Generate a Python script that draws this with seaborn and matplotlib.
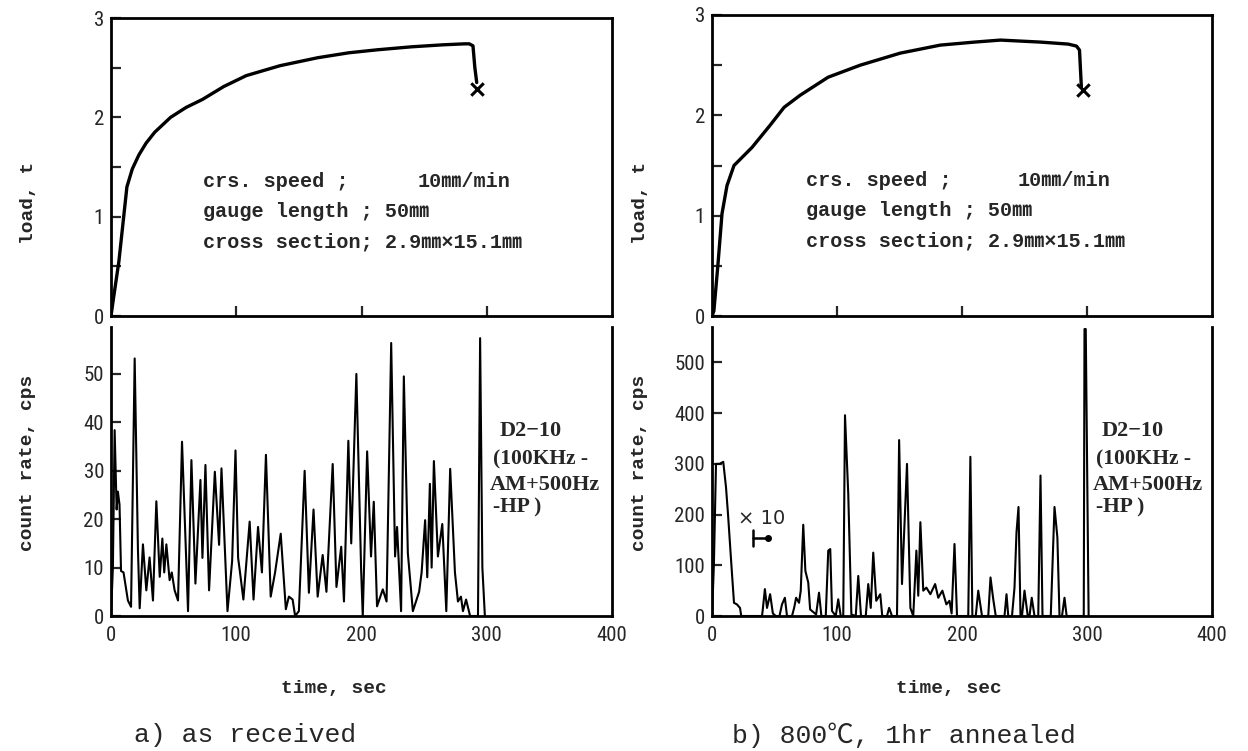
import numpy as np
import pandas as pd
import matplotlib
matplotlib.use("Agg")
import matplotlib.pyplot as plt
from matplotlib import font_manager
import seaborn as sns

# ---------------- data ----------------
load_a_t = [0, 2, 6.3, 12.7, 17, 22.2, 28, 34.9, 47.6, 60, 73, 90, 108, 135, 165, 190,
            212.7, 240, 265, 282.5, 286, 289, 290.5, 292]
load_a_v = [0, 0.18, 0.55, 1.3, 1.48, 1.62, 1.74, 1.85, 2.0, 2.1, 2.18, 2.31, 2.42, 2.52,
            2.6, 2.65, 2.68, 2.71, 2.73, 2.74, 2.74, 2.72, 2.5, 2.35]
break_a = (292, 2.29)

load_b_t = [0, 1.5, 4.8, 8, 12, 17.6, 32, 46.4, 57.7, 70.5, 92.9, 118.6, 150.6, 182.7,
            210, 230.8, 262.8, 285, 291.6, 294, 295.5]
load_b_v = [0, 0.05, 0.52, 1.02, 1.3, 1.5, 1.68, 1.9, 2.08, 2.2, 2.38, 2.5, 2.62, 2.7,
            2.73, 2.75, 2.73, 2.71, 2.69, 2.65, 2.28]
break_b = (296.5, 2.25)

count_a = [(0, 0), (1.5, 10), (2.9, 38.4), (4.5, 22), (5.5, 25.7), (6.8, 23), (8, 9.3), (10, 9),
           (13.5, 3.2), (16, 1.9), (18.9, 53.2), (21.5, 13.8), (22.9, 1.6), (25.5, 14.8),
           (28.2, 5.3), (30.8, 12.1), (33.5, 3.2), (36.2, 23.7), (38.9, 8.1), (41, 16),
           (42.5, 9), (44.2, 14.8), (46.8, 7.4), (48.5, 9), (50.8, 5.3), (53.5, 3.2),
           (56.7, 36), (61.5, 1), (64.2, 32.2), (67.4, 6.7), (71.4, 28.1), (73, 12),
           (75.4, 31.2), (78.3, 5.3), (82.9, 29.8), (86.3, 14.7), (88.2, 30.5), (93, 1),
           (96.7, 11.3), (99.4, 34.2), (101.5, 12), (103, 9), (105.7, 3.4),
           (110.7, 19.5), (113.8, 3.4), (117.4, 18.4), (120.5, 9), (123.7, 33.3), (127.5, 4),
           (131, 9), (135.5, 17), (139.6, 1.4), (142, 4), (145, 3.4), (147, 0), (150, 1),
           (154.6, 30), (158, 4.8), (161.7, 22), (165, 4), (169, 12.6), (172, 5), (177, 31.4),
           (180, 6), (183.8, 14.3), (186, 3), (189.5, 36.2), (191.8, 15), (195.9, 50),
           (199.7, 9.6), (201, 0), (204.5, 34), (207.6, 12.3), (209.8, 23.6), (212.4, 2),
           (217, 5.5), (220, 3), (223.7, 56.4), (226.8, 12.3), (228.4, 18.4), (231.6, 1),
           (233.8, 49.5), (237, 13), (241, 1), (246, 5), (248, 9), (250.8, 19.8), (252.5, 8),
           (254.6, 27.3), (256, 10), (257.8, 32), (261, 12.3), (264.5, 19), (267.7, 1),
           (270.8, 30.4), (274.6, 9), (277, 3), (279.4, 4), (281, 1), (283.5, 3.4),
           (286.7, 0), (293, 0), (294.7, 57.4), (296.5, 10), (298.5, 0)]

count_b = [(0, 0), (1.5, 100), (3.2, 300), (6, 300), (9, 304), (11.2, 254), (12.8, 201), (16, 83),
           (17.6, 26), (19.9, 23), (22.4, 16), (23.4, 0), (40, 0), (40.5, 10), (42.3, 53),
           (44, 16), (46.5, 43), (48.7, 5), (51, 0), (54, 0), (56, 23), (58.3, 36), (60, 0),
           (64, 0), (65.7, 16), (67.3, 36), (69.6, 26), (71, 50), (73, 180), (74.7, 89),
           (77, 66), (78.5, 13), (83.3, 3), (85.6, 46), (87.5, 0), (91, 0), (93, 129),
           (94.6, 132), (96, 10), (99, 0), (101, 33), (103, 0), (105, 0), (106.4, 396),
           (109, 241), (111.5, 3), (115, 0), (117, 79), (119.2, 0), (123, 0), (125, 63),
           (127, 16), (129, 125), (131.4, 30), (134.6, 43), (136.2, 0), (140, 0), (141.7, 16),
           (144, 0), (148, 0), (149.7, 347), (152, 63), (156, 300), (158.7, 16), (161, 0),
           (163.5, 129), (165, 40), (166.7, 185), (169, 50), (171.5, 56), (174.7, 43),
           (178.5, 63), (181, 36), (184.3, 50), (187.5, 23), (190, 30), (191.7, 5),
           (194, 142), (196, 0), (205, 0), (206.7, 314), (208.3, 0), (211, 0), (213, 50),
           (216, 0), (221, 0), (222.8, 76), (225, 33), (227, 0), (234, 0), (235.6, 43),
           (237, 0), (240, 0), (242, 56), (243.6, 165), (245.2, 215), (246.8, 0), (248, 0),
           (250, 50), (252.6, 0), (254, 0), (255.8, 36), (258, 0), (261, 0), (262.8, 277),
           (264.4, 0), (271, 0), (274, 215), (276.3, 155), (278, 0), (280, 0), (282, 36),
           (283.7, 0), (297.4, 0), (298, 566), (299, 566), (301.3, 0)]

load_ticks = [0, 1, 2, 3]
count_a_ticks = [0, 10, 20, 30, 40, 50]
count_b_ticks = [0, 100, 200, 300, 400, 500]
time_ticks = [0, 100, 200, 300, 400]

# ---------------- style ----------------
sns.set_theme(style="white")
plt.rcParams['font.family'] = ['DejaVu Sans']

installed = {f.name for f in font_manager.fontManager.ttflist}
narrow = [f for f in ['Liberation Sans Narrow', 'Roboto Condensed', 'DejaVu Sans Condensed',
                      'Open Sans Condensed'] if f in installed]
TICK_FAM = (narrow[:1] if narrow else []) + ['DejaVu Sans']
TICK_SIZE = 15 if narrow else 13

W, H = 1248, 751
fig = plt.figure(figsize=(W / 100, H / 100), dpi=100)
fig.patch.set_facecolor('white')


def px_axes(x0, y0, x1, y1):
    return fig.add_axes([x0 / W, 1 - y1 / H, (x1 - x0) / W, (y1 - y0) / H])


MONO = ['Liberation Mono', 'Noto Sans CJK JP', 'DejaVu Sans']
SERIF = ['Liberation Serif', 'DejaVu Serif']
tickfont = dict(family=TICK_FAM, size=TICK_SIZE)
LW_SPINE = 2.0

panels = [
    dict(x0=111, x1=612, ytop=18, ymid=316, cy0=327, ybot=616,
         lt=load_a_t, lv=load_a_v, brk=break_a, cnt=count_a,
         cticks=count_a_ticks, cmax=59.7, ylab_x=28, cap="a) as received", cap_x=134,
         tlab_x=334),
    dict(x0=712, x1=1212, ytop=15, ymid=316, cy0=327, ybot=616,
         lt=load_b_t, lv=load_b_v, brk=break_b, cnt=count_b,
         cticks=count_b_ticks, cmax=570, ylab_x=640, cap="b) 800℃, 1hr annealed", cap_x=732,
         tlab_x=949),
]

for i, p in enumerate(panels):
    # ---------- load panel ----------
    ax = px_axes(p['x0'], p['ytop'], p['x1'], p['ymid'])
    df = pd.DataFrame({'t': p['lt'], 'v': p['lv']})
    sns.lineplot(data=df, x='t', y='v', ax=ax, color='black', lw=2.4,
                 sort=False, estimator=None)
    sns.scatterplot(x=[p['brk'][0]], y=[p['brk'][1]], ax=ax, marker='x', s=80,
                    color='black', linewidth=2.2)
    ax.set_xlim(0, 400)
    ax.set_ylim(0, 3)
    ax.set_xticks([100, 200, 300])
    ax.set_xticklabels([])
    ax.set_yticks(load_ticks)
    ax.set_yticks([0.5, 1.5, 2.5], minor=True)
    ax.set_yticklabels([str(t) for t in load_ticks], **tickfont)
    ax.tick_params(axis='both', which='both', direction='in', length=7, width=1.6,
                   left=True, bottom=True, pad=5)
    ax.set_xlabel('')
    ax.set_ylabel('')
    ax.set_facecolor('white')
    for s in ax.spines.values():
        s.set_visible(True)
        s.set_color('black')
        s.set_linewidth(LW_SPINE)

    fx = 0.183 if i == 0 else 0.188
    fs = 14.5
    ax.text(fx, 0.45, "crs. speed ;", transform=ax.transAxes, family=MONO,
            fontsize=fs, fontweight='bold', va='center')
    ax.text(0.612, 0.45, "10㎜/min", transform=ax.transAxes, family=MONO,
            fontsize=fs, fontweight='bold', va='center')
    ax.text(fx, 0.35, "gauge length ; 50㎜", transform=ax.transAxes, family=MONO,
            fontsize=fs, fontweight='bold', va='center')
    ax.text(fx, 0.25, "cross section; 2.9㎜×15.1㎜", transform=ax.transAxes,
            family=MONO, fontsize=fs, fontweight='bold', va='center')

    # ---------- count-rate panel ----------
    bx = px_axes(p['x0'], p['cy0'], p['x1'], p['ybot'])
    ct = [a for a, b in p['cnt']]
    cv = [b for a, b in p['cnt']]
    dfc = pd.DataFrame({'t': ct, 'v': cv})
    sns.lineplot(data=dfc, x='t', y='v', ax=bx, color='black', lw=1.5,
                 sort=False, estimator=None)
    bx.set_xlim(0, 400)
    bx.set_ylim(0, p['cmax'])
    bx.set_xticks(time_ticks)
    bx.set_xticklabels([str(t) for t in time_ticks], **tickfont)
    bx.set_yticks(p['cticks'])
    bx.set_yticklabels([str(t) for t in p['cticks']], **tickfont)
    bx.tick_params(axis='y', which='both', direction='in', length=7, width=1.6,
                   left=True, pad=5)
    bx.tick_params(axis='x', which='both', direction='in', length=0, pad=7)
    bx.set_xlabel('')
    bx.set_ylabel('')
    bx.set_facecolor('white')
    for name, s in bx.spines.items():
        s.set_visible(name != 'top')
        s.set_color('black')
        s.set_linewidth(LW_SPINE)

    tx = 0.775 if i == 0 else 0.78
    bx.text(tx, 0.64, "D2−10", transform=bx.transAxes, family=SERIF,
            fontsize=16, fontweight='bold', va='center')
    bx.text(tx - 0.012, 0.54, "(100KHz -", transform=bx.transAxes, family=SERIF,
            fontsize=15.5, fontweight='bold', va='center')
    bx.text(tx - 0.018, 0.455, "AM+500Hz", transform=bx.transAxes, family=SERIF,
            fontsize=16, fontweight='bold', va='center')
    bx.text(tx - 0.012, 0.375, "-HP )", transform=bx.transAxes, family=SERIF,
            fontsize=15.5, fontweight='bold', va='center')

    if i == 1:
        bx.text(21, 192, "× 10", family='DejaVu Sans', fontsize=14, va='center')
        bx.plot([33, 33], [138, 170], color='black', lw=1.8)
        bx.plot([33, 45], [154, 154], color='black', lw=1.8)
        bx.plot([45], [154], 'o', color='black', ms=4)

    # ---------- labels ----------
    fig.text(p['ylab_x'] / W, 1 - 203 / H, "load, t", rotation=90, family=MONO,
             fontsize=14, fontweight='bold', ha='center', va='center')
    fig.text(p['ylab_x'] / W, 1 - 463 / H, "count rate, cps", rotation=90, family=MONO,
             fontsize=14, fontweight='bold', ha='center', va='center')
    fig.text(p['tlab_x'] / W, 1 - 688 / H, "time, sec", family=MONO, fontsize=14,
             fontweight='bold', ha='center', va='center')
    fig.text(p['cap_x'] / W, 1 - 735 / H, p['cap'], family=MONO, fontsize=19,
             ha='left', va='center')

fig.savefig("out.png", dpi=100, facecolor='white')
